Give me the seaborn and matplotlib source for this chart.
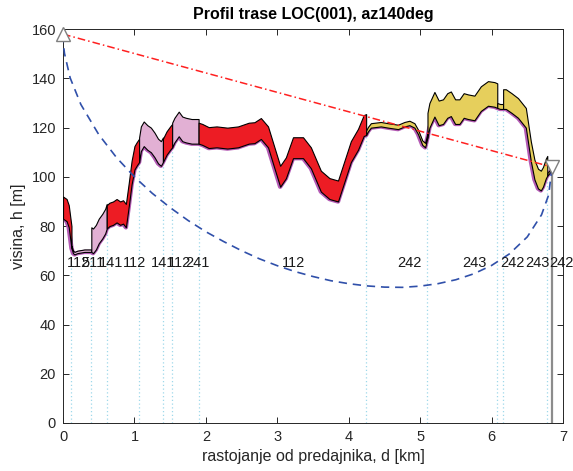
import numpy as np
import pandas as pd
import matplotlib
matplotlib.use("Agg")
import matplotlib.pyplot as plt
import seaborn as sns

# ---------------- data ----------------
dist_km = [0.00, 0.05, 0.08, 0.10, 0.118, 0.14, 0.16, 0.20, 0.30, 0.38, 0.396, 0.42, 0.46, 0.50,
           0.55, 0.59, 0.612, 0.65, 0.70, 0.75, 0.80, 0.84, 0.88, 0.92, 0.96, 1.00, 1.03, 1.065,
           1.09, 1.13, 1.18, 1.23, 1.28, 1.33, 1.37, 1.399, 1.45, 1.50, 1.528, 1.56, 1.62, 1.67,
           1.72, 1.80, 1.86, 1.898, 1.95, 2.04, 2.15, 2.30, 2.45, 2.60, 2.68, 2.77, 2.87, 2.96,
           3.04, 3.12, 3.22, 3.36, 3.47, 3.61, 3.73, 3.85, 3.94, 4.03, 4.13, 4.21, 4.244, 4.27,
           4.31, 4.45, 4.55, 4.69, 4.78, 4.85, 4.92, 4.97, 5.03, 5.07, 5.103, 5.13, 5.20, 5.26,
           5.32, 5.38, 5.43, 5.49, 5.55, 5.61, 5.67, 5.76, 5.85, 5.95, 6.04, 6.08, 6.12, 6.162,
           6.20, 6.28, 6.37, 6.48, 6.55, 6.60, 6.65, 6.69, 6.72, 6.76, 6.78, 6.81, 6.847]
ground_m = [83, 82, 79.5, 75, 71, 69, 68.5, 69, 69.5, 69.5, 69.5, 69, 70.5, 73,
            75, 77, 79, 80, 80.5, 81.5, 80.5, 81, 79.5, 88, 97, 103, 104.5, 106,
            110.5, 112.5, 111, 110, 108, 105.5, 104.5, 106, 109, 111, 112, 114, 116.5, 114.5,
            114, 113.5, 113.5, 113.5, 113, 111.7, 112, 111.5, 112, 113.5, 113.7, 115.4, 112, 103.5,
            96, 99.4, 107.6, 107.6, 103.5, 94, 91, 90, 98, 106, 111, 116.6, 117, 118.5,
            120, 120.5, 120, 119.4, 120.5, 121, 120, 117.4, 113, 112, 116, 120, 124.5, 121,
            121.5, 124, 124.7, 121.5, 121.5, 124, 123.5, 123, 126.8, 128.9, 128.5, 128, 127.6, 127.6,
            127.6, 126, 124, 120, 106.4, 99, 95.3, 94.5, 96, 99.4, 100.5, 101.5, 103]

seg_bounds_km = [0.0, 0.118, 0.396, 0.612, 1.065, 1.399, 1.528, 1.898, 4.244, 5.103, 6.080, 6.162, 6.780, 6.847]
seg_labels = ["112", "511", "141", "112", "141", "112", "241", "112", "242", "243", "242", "243", "242"]
seg_clutter_m = [9, 1, 10, 9.5, 10, 9.5, 10, 8.5, 1.8, 10, 2, 8, 1]

los_km = [0.0, 6.847]
los_m = [158.0, 104.0]

fresnel_km = [0, 0.005, 0.02, 0.1, 0.25, 0.5, 0.75, 1.0, 1.25, 1.5, 1.75, 2.0, 2.25, 2.5, 2.75, 3.0,
              3.25, 3.5, 3.75, 4.0, 4.25, 4.5, 4.75, 5.0, 5.25, 5.5, 5.75, 6.0, 6.25, 6.5, 6.7,
              6.8, 6.847]
fresnel_m = [158, 154, 150.2, 140.2, 129.4, 117.2, 107.8, 100.0, 93.3, 87.5, 82.3, 77.7, 73.7, 70.0,
             66.7, 63.9, 61.5, 59.5, 57.8, 56.6, 55.7, 55.2, 55.1, 55.6, 56.6, 58.2, 60.6, 64.0,
             68.7, 75.6, 84.6, 92.7, 104]

tx_km, tx_m = 0.0, 158.0
rx_km, rx_m = 6.847, 104.0

x_ticks = [0, 1, 2, 3, 4, 5, 6, 7]
y_ticks = [0, 20, 40, 60, 80, 100, 120, 140, 160]

# ---------------- style ----------------
sns.set_theme(style="white")
plt.rcParams["font.family"] = ["Liberation Sans", "DejaVu Sans"]
axis_col = "#262626"

clutter_colors = {"112": "#ed1c24", "511": "#e2b0d4", "141": "#e2b0d4",
                  "241": "#e2b0d4", "242": "#e6cf5c", "243": "#e6cf5c"}

fig = plt.figure(figsize=(5.73, 4.71), dpi=100)
ax = fig.add_axes([0.110, 0.102, 0.8725, 0.836])

d = np.array(dist_km)
g = np.array(ground_m)

# cyan dotted boundary lines
for b in seg_bounds_km[1:-1]:
    gb = g[np.argmin(np.abs(d - b))]
    ax.plot([b, b], [0, gb], ls=(0, (1, 2)), color="#9fd8ea", lw=0.9, zorder=1)

# receiver mast line
ax.plot([rx_km, rx_km], [0, rx_m], color="#8c8c8c", lw=1.6, zorder=1)

# ground line (thick purple)
df_g = pd.DataFrame({"d": dist_km, "h": ground_m})
sns.lineplot(data=df_g, x="d", y="h", ax=ax, color="#b45ab4", lw=3.2, estimator=None,
             sort=False, zorder=2)

# clutter fills
for i, lab in enumerate(seg_labels):
    b0, b1 = seg_bounds_km[i], seg_bounds_km[i + 1]
    m = (d >= b0 - 1e-9) & (d <= b1 + 1e-9)
    top = g[m] + seg_clutter_m[i]
    ax.fill_between(d[m], g[m], top, facecolor=clutter_colors[lab], edgecolor="black",
                    lw=0.8, zorder=3)
    ax.text((b0 + b1) / 2, 65, lab, ha="left", va="center", fontsize=10.5,
            color="#1a1a1a", zorder=6)

# LOS and Fresnel
df_los = pd.DataFrame({"d": los_km, "h": los_m})
sns.lineplot(data=df_los, x="d", y="h", ax=ax, color="#ff2020", lw=1.1,
             estimator=None, zorder=4)
ax.lines[-1].set_linestyle((0, (5, 2, 1, 2)))
df_f = pd.DataFrame({"d": fresnel_km, "h": fresnel_m})
sns.lineplot(data=df_f, x="d", y="h", ax=ax, color="#3050aa", lw=1.2,
             estimator=None, zorder=4)
ax.lines[-1].set_linestyle((0, (5, 3.5)))

# antenna markers
ax.plot([tx_km], [tx_m], marker="^", ms=10, mfc="white", mec="#7f7f7f", mew=1,
        zorder=7, clip_on=False)
ax.plot([rx_km], [rx_m], marker="v", ms=10, mfc="white", mec="#7f7f7f", mew=1,
        zorder=7, clip_on=False)

# axes
ax.set_xlim(0, 7)
ax.set_ylim(0, 160)
ax.set_xticks(x_ticks)
ax.set_yticks(y_ticks)
ax.tick_params(direction="in", length=4, width=0.7, colors=axis_col, labelsize=10.5,
               top=True, right=True, bottom=True, left=True, pad=5)
for s in ax.spines.values():
    s.set_visible(True)
    s.set_color(axis_col)
    s.set_linewidth(0.7)
ax.grid(False)
ax.set_xlabel("rastojanje od predajnika, d [km]", fontsize=11.5, color=axis_col, labelpad=4)
ax.set_ylabel("visina, h [m]", fontsize=11.5, color=axis_col, labelpad=4)
ax.set_title("Profil trase LOC(001), az140deg", fontsize=11.5, fontweight="bold",
             color="black", pad=7)
if ax.get_legend() is not None:
    ax.get_legend().remove()

fig.savefig("out.png", dpi=100)
